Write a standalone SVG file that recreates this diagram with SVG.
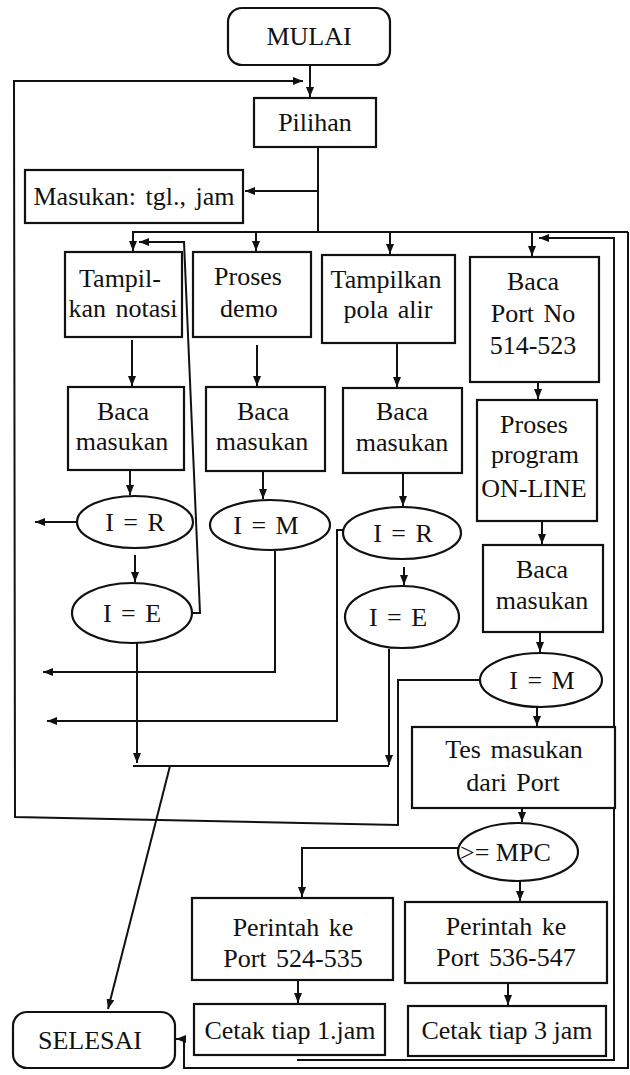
<svg xmlns="http://www.w3.org/2000/svg" width="630" height="1075" viewBox="0 0 630 1075">
<style>
.b{fill:#fff;stroke:#111;stroke-width:2.2}
.t{font-family:"Liberation Serif","Times New Roman",serif;font-size:26px;fill:#111;text-anchor:middle;word-spacing:3px}
.c{fill:none;stroke:#111;stroke-width:2}
</style>
<defs>
<marker id="a" markerUnits="userSpaceOnUse" markerWidth="10" markerHeight="8" refX="10" refY="4" orient="auto">
<path d="M0,0 L10,4 L0,8 z" fill="#111"/>
</marker>
</defs>
<rect width="630" height="1075" fill="#fff"/>
<g id="connectors">
<path class="c" d="M310,65 V97" marker-end="url(#a)"/>
<path class="c" d="M318,147 V232"/>
<path class="c" d="M318,191 H245" marker-end="url(#a)"/>
<path class="c" d="M628,232 H133 V251" marker-end="url(#a)"/>
<path class="c" d="M256,232 V251" marker-end="url(#a)"/>
<path class="c" d="M390,232 V254" marker-end="url(#a)"/>
<path class="c" d="M532,232 V256" marker-end="url(#a)"/>
<path class="c" d="M628,232 V1068 H184 V1039 H176" marker-end="url(#a)"/>
<path class="c" d="M297,1060 H614 V238 H539" marker-end="url(#a)"/>
<path class="c" d="M192,613 H200 L184,242 H139" marker-end="url(#a)"/>
<path class="c" d="M132,340 V386" marker-end="url(#a)"/>
<path class="c" d="M257,345 V386" marker-end="url(#a)"/>
<path class="c" d="M397,343 V387" marker-end="url(#a)"/>
<path class="c" d="M538,382 V399" marker-end="url(#a)"/>
<path class="c" d="M542,521 V544" marker-end="url(#a)"/>
<path class="c" d="M130,470 V495" marker-end="url(#a)"/>
<path class="c" d="M135,555 V582" marker-end="url(#a)"/>
<path class="c" d="M263,471 V499" marker-end="url(#a)"/>
<path class="c" d="M403,473 V506" marker-end="url(#a)"/>
<path class="c" d="M404,567 V585" marker-end="url(#a)"/>
<path class="c" d="M540,632 V652" marker-end="url(#a)"/>
<path class="c" d="M537,707 V726" marker-end="url(#a)"/>
<path class="c" d="M522,808 V822" marker-end="url(#a)"/>
<path class="c" d="M520,881 V901" marker-end="url(#a)"/>
<path class="c" d="M508,983 V1005" marker-end="url(#a)"/>
<path class="c" d="M298,980 V1003" marker-end="url(#a)"/>
<path class="c" d="M458,848 H302 V897" marker-end="url(#a)"/>
<path class="c" d="M77,522 H35" marker-end="url(#a)"/>
<path class="c" d="M275,551 V672 H43" marker-end="url(#a)"/>
<path class="c" d="M343,530 H337 V721 H47" marker-end="url(#a)"/>
<path class="c" d="M137,643 V763" marker-end="url(#a)"/>
<path class="c" d="M389,649 V765" marker-end="url(#a)"/>
<path class="c" d="M133,766 H389"/>
<path class="c" d="M170,766 L108,1009" marker-end="url(#a)"/>
<path class="c" d="M480,680 H398 V825 L15,817 L14,81 H303" marker-end="url(#a)"/>
</g>
<g id="mulai"><rect class="b" x="228" y="8" width="162" height="57" rx="14"/><text class="t" x="309" y="45">MULAI</text></g>
<g id="pilihan"><rect class="b" x="254" y="98" width="122" height="49"/><text class="t" x="315" y="131">Pilihan</text></g>
<g id="masukan"><rect class="b" x="25" y="170" width="218" height="53"/><text class="t" x="134" y="205">Masukan: tgl., jam</text></g>
<g id="tampil-notasi"><rect class="b" x="65" y="252" width="117" height="85"/><text class="t" x="120" y="287">Tampil-</text><text class="t" x="123" y="317">kan notasi</text></g>
<g id="proses-demo"><rect class="b" x="193" y="252" width="118" height="85"/><text class="t" x="248" y="285">Proses</text><text class="t" x="249" y="317">demo</text></g>
<g id="tampil-pola"><rect class="b" x="322" y="255" width="133" height="88"/><text class="t" x="386" y="288">Tampilkan</text><text class="t" x="388" y="318">pola alir</text></g>
<g id="baca-port"><rect class="b" x="470" y="257" width="129" height="125"/><text class="t" x="533" y="290">Baca</text><text class="t" x="533" y="322">Port No</text><text class="t" x="533" y="354">514-523</text></g>
<g id="baca1"><rect class="b" x="68" y="387" width="116" height="83"/><text class="t" x="123" y="420">Baca</text><text class="t" x="122" y="450">masukan</text></g>
<g id="baca2"><rect class="b" x="206" y="387" width="119" height="84"/><text class="t" x="263" y="420">Baca</text><text class="t" x="262" y="450">masukan</text></g>
<g id="baca3"><rect class="b" x="343" y="388" width="119" height="85"/><text class="t" x="402" y="420">Baca</text><text class="t" x="402" y="451">masukan</text></g>
<g id="proses-online"><rect class="b" x="477" y="400" width="120" height="121"/><text class="t" x="534" y="433">Proses</text><text class="t" x="535" y="463">program</text><text class="t" x="534" y="497">ON-LINE</text></g>
<g id="baca4"><rect class="b" x="483" y="545" width="120" height="87"/><text class="t" x="542" y="578">Baca</text><text class="t" x="542" y="609">masukan</text></g>
<g id="ir1"><ellipse class="b" cx="135" cy="522" rx="58" ry="26"/><text class="t" x="135" y="531">I = R</text></g>
<g id="ie1"><ellipse class="b" cx="132" cy="613" rx="60" ry="30"/><text class="t" x="132" y="622">I = E</text></g>
<g id="im2"><ellipse class="b" cx="270" cy="525" rx="60" ry="25"/><text class="t" x="266" y="534">I = M</text></g>
<g id="ir3"><ellipse class="b" cx="402" cy="533" rx="59" ry="26"/><text class="t" x="403" y="542">I = R</text></g>
<g id="ie3"><ellipse class="b" cx="402" cy="617" rx="57" ry="31"/><text class="t" x="398" y="626">I = E</text></g>
<g id="im4"><ellipse class="b" cx="541" cy="680" rx="61" ry="27"/><text class="t" x="542" y="689">I = M</text></g>
<g id="tes"><rect class="b" x="412" y="727" width="203" height="81"/><text class="t" x="514" y="758">Tes masukan</text><text class="t" x="513" y="791">dari Port</text></g>
<g id="mpc"><ellipse class="b" cx="518" cy="852" rx="60" ry="29"/><text class="t" x="460" y="861" style="text-anchor:start;word-spacing:0">&gt;= MPC</text></g>
<g id="perintah1"><rect class="b" x="192" y="898" width="201" height="82"/><text class="t" x="293" y="936">Perintah ke</text><text class="t" x="293" y="967">Port 524-535</text></g>
<g id="perintah2"><rect class="b" x="405" y="902" width="202" height="81"/><text class="t" x="506" y="935">Perintah ke</text><text class="t" x="506" y="966">Port 536-547</text></g>
<g id="cetak1"><rect class="b" x="194" y="1004" width="191" height="51"/><text class="t" x="290" y="1039" style="word-spacing:0">Cetak tiap 1.jam</text></g>
<g id="cetak3"><rect class="b" x="408" y="1006" width="198" height="50"/><text class="t" x="507" y="1039" style="word-spacing:0">Cetak tiap 3 jam</text></g>
<g id="selesai"><rect class="b" x="13" y="1012" width="162" height="56" rx="14"/><text class="t" x="90" y="1049">SELESAI</text></g>
</svg>
